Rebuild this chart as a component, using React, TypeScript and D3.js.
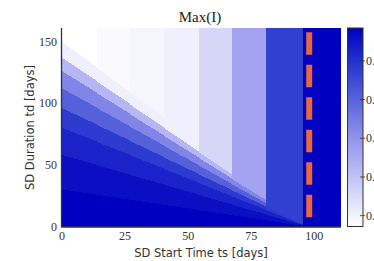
import React from 'react';
import * as d3 from 'd3';

// SD start-time bands (days) and the value each band settles to at long durations
const bandEdges = [0, 13.8, 27, 40.5, 54.4, 67.5, 81, 95.6, 110.6];
const bandTop = [0.072, 0.082, 0.093, 0.103, 0.159, 0.267, 0.472, 0.585];

// iso-value boundaries (td at each band edge), from lightest to darkest
const boundaries = [
  [150, 128.7, 108.3, 87.3, 65.9, 45.6, 24.7, 2.2, 0],
  [137, 117.5, 98.9, 79.8, 60.1, 41.7, 22.6, 1.9, 0],
  [126, 108.1, 91, 73.3, 55.3, 38.3, 20.8, 1.8, 0],
  [112, 96.1, 80.9, 65.2, 49.2, 34, 18.5, 1.6, 0],
  [96, 82.4, 69.3, 55.9, 42.1, 29.2, 15.8, 1.3, 0],
  [80, 68.6, 57.8, 46.6, 35.1, 24.3, 13.2, 1.1, 0],
  [58, 49.8, 41.9, 33.8, 25.5, 17.6, 9.6, 0.8, 0],
  [30, 25.7, 21.7, 17.5, 13.2, 9.1, 5, 0.4, 0],
];
// value in each region: above boundaries[0], between successive ones, below the last
const levelValues = [0.072, 0.103, 0.226, 0.329, 0.405, 0.482, 0.523, 0.559, 0.585];

const xTicks = [0, 25, 50, 75, 100];
const yTicks = [0, 50, 100, 150];
const cbTicks = [0.1, 0.2, 0.3, 0.4, 0.5];
const cbDomain = [0.072, 0.585];
const lockdownTs = 98;
const tdMax = 161;

const W = 374;
const H = 261;

const App = () => {
  const x = d3.scaleLinear().domain([0, 110.6]).range([62, 341]);
  const y = d3.scaleLinear().domain([0, tdMax]).range([226.5, 28]);
  const color = d3.scaleLinear<string>()
    .domain([0.072, 0.277, 0.472, 0.585])
    .range(['#ffffff', '#9e9ef0', '#3040d0', '#0000c0'])
    .clamp(true);
  const cbY = d3.scaleLinear().domain(cbDomain).range([226.5, 28]);

  const polys: { pts: string; fill: string; key: string }[] = [];
  bandTop.forEach((top, j) => {
    const x0 = x(bandEdges[j]);
    const x1 = Math.min(x(bandEdges[j + 1]) + 1, x(110.6));
    levelValues.forEach((lv, k) => {
      const upL = k === 0 ? tdMax : boundaries[k - 1][j];
      const upR = k === 0 ? tdMax : boundaries[k - 1][j + 1];
      const pts = [
        [x0, y(upL)], [x1, y(upR)], [x1, y(0)], [x0, y(0)],
      ].map(p => p.join(',')).join(' ');
      polys.push({ pts, fill: color(Math.max(lv, top)), key: `${j}-${k}` });
    });
  });

  const gradStops = d3.range(0, 1.0001, 0.05).map(t => ({
    off: t,
    c: color(cbDomain[0] + t * (cbDomain[1] - cbDomain[0])),
  }));

  return (
    <svg width={W} height={H} style={{ position: 'absolute', left: 0, top: 0, background: '#fff' }}>
      <defs>
        <linearGradient id="cb" x1="0" y1="1" x2="0" y2="0">
          {gradStops.map(s => (
            <stop key={s.off} offset={s.off} stopColor={s.c} />
          ))}
        </linearGradient>
      </defs>

      <text x={200} y={22} textAnchor="middle" fontFamily="Liberation Serif" fontSize={15} fill="#222">Max(I)</text>

      <g shapeRendering="crispEdges">
        {polys.map(p => (
          <polygon key={p.key} points={p.pts} fill={p.fill} />
        ))}
      </g>

      {/* lockdown marker */}
      <line x1={x(lockdownTs)} x2={x(lockdownTs)} y1={y(157.5)} y2={y(0)}
        stroke="#e8673c" strokeWidth={6} strokeDasharray="22.5 10" />

      {/* axes */}
      <line x1={61.5} x2={61.5} y1={28} y2={227} stroke="#333" strokeWidth={1.3} />
      <line x1={61} x2={341} y1={227} y2={227} stroke="#333" strokeWidth={1.3} />
      {xTicks.map(t => (
        <text key={t} x={x(t)} y={240} textAnchor="middle" fontFamily="Liberation Serif" fontSize={12} fill="#333">{t}</text>
      ))}
      {yTicks.map(t => (
        <text key={t} x={57} y={y(t) + 4} textAnchor="end" fontFamily="Liberation Serif" fontSize={12} fill="#333">{t}</text>
      ))}
      <text x={201} y={256.5} textAnchor="middle" fontFamily="DejaVu Sans" fontSize={11.5} fill="#333">SD Start Time ts [days]</text>
      <text transform="translate(33.5,127.5) rotate(-90)" textAnchor="middle" fontFamily="DejaVu Sans" fontSize={11.5} fill="#333">SD Duration td [days]</text>

      {/* colorbar */}
      <rect x={347.5} y={28} width={15.5} height={198.5} fill="url(#cb)" stroke="#333" strokeWidth={1} />
      {cbTicks.map(t => (
        <g key={t}>
          <line x1={360} x2={365} y1={cbY(t)} y2={cbY(t)} stroke="#333" strokeWidth={0.8} />
          <text x={366} y={cbY(t) + 4} fontFamily="Liberation Serif" fontSize={12} fill="#333">{t.toFixed(1)}</text>
        </g>
      ))}
    </svg>
  );
};

export default App;
